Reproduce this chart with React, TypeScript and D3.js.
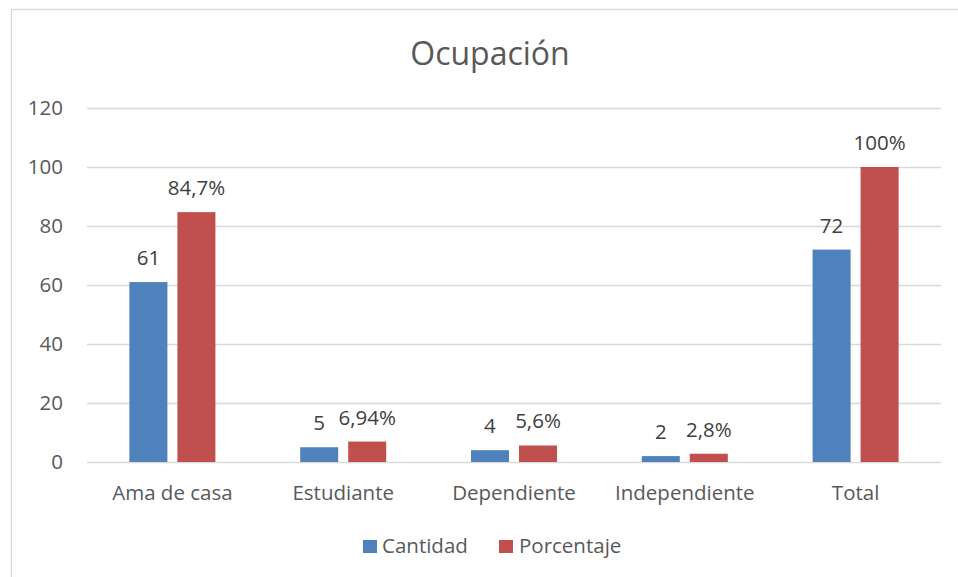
import React from 'react';
import * as d3 from 'd3';

const categories = ['Ama de casa', 'Estudiante', 'Dependiente', 'Independiente', 'Total'];
const seriesNames = ['Cantidad', 'Porcentaje'];
const cantidad = [61, 5, 4, 2, 72];
const porcentaje = [84.7, 6.94, 5.6, 2.8, 100];
const cantidadLabels = ['61', '5', '4', '2', '72'];
const porcentajeLabels = ['84,7%', '6,94%', '5,6%', '2,8%', '100%'];
const yTicks = [0, 20, 40, 60, 80, 100, 120];
const colors = ['#4F81BD', '#C0504D'];

const W = 958;
const H = 577;
const margin = { top: 108, right: 17, bottom: 115, left: 87 };
const FONT = '"Open Sans", sans-serif';
const TEXT = '#595959';
const FS = 20.5;

const App: React.FC = () => {
  const x0 = d3.scaleBand<string>().domain(categories).range([margin.left, W - margin.right]);
  const x1 = d3.scaleBand<string>().domain(seriesNames).range([0, x0.bandwidth()])
    .paddingInner(0.208).paddingOuter(0.883);
  const y = d3.scaleLinear().domain([0, 120]).range([H - margin.bottom, margin.top]);

  const series = [
    { name: seriesNames[0], values: cantidad, labels: cantidadLabels, color: colors[0] },
    { name: seriesNames[1], values: porcentaje, labels: porcentajeLabels, color: colors[1] },
  ];

  return (
    <svg width={W} height={H} style={{ position: 'absolute', left: 0, top: 0, background: '#fff' }}
      fontFamily={FONT}>
      <rect x={11.5} y={9.5} width={W} height={H} fill="#fff" stroke="#D9D9D9" strokeWidth={1.3} />
      <text x={490} y={65} textAnchor="middle" fontSize={32} fill={TEXT}>Ocupación</text>
      {yTicks.map(t => (
        <g key={t}>
          <line x1={margin.left} x2={W - margin.right} y1={Math.round(y(t)) + 0.5} y2={Math.round(y(t)) + 0.5}
            stroke="#D9D9D9" strokeWidth={1.3} />
          <text x={63} y={y(t)} dy="0.35em" textAnchor="end" fontSize={FS} fill={TEXT}>{t}</text>
        </g>
      ))}
      {categories.map((c, i) => (
        <g key={c} transform={`translate(${x0(c)},0)`}>
          {series.map(s => (
            <g key={s.name}>
              <rect x={x1(s.name)} y={y(s.values[i])} width={x1.bandwidth()}
                height={y(0) - y(s.values[i])} fill={s.color} />
              <text x={(x1(s.name) as number) + x1.bandwidth() / 2} y={y(s.values[i]) - 17}
                textAnchor="middle" fontSize={FS} fill="#404040">{s.labels[i]}</text>
            </g>
          ))}
          <text x={x0.bandwidth() / 2} y={500} textAnchor="middle" fontSize={FS} fill={TEXT}>{c}</text>
        </g>
      ))}
      <g>
        <rect x={363} y={540} width={14} height={13} fill={colors[0]} />
        <text x={382} y={553} fontSize={FS} fill={TEXT}>{seriesNames[0]}</text>
        <rect x={499} y={540} width={14} height={13} fill={colors[1]} />
        <text x={519} y={553} fontSize={FS} fill={TEXT}>{seriesNames[1]}</text>
      </g>
    </svg>
  );
};

export default App;
